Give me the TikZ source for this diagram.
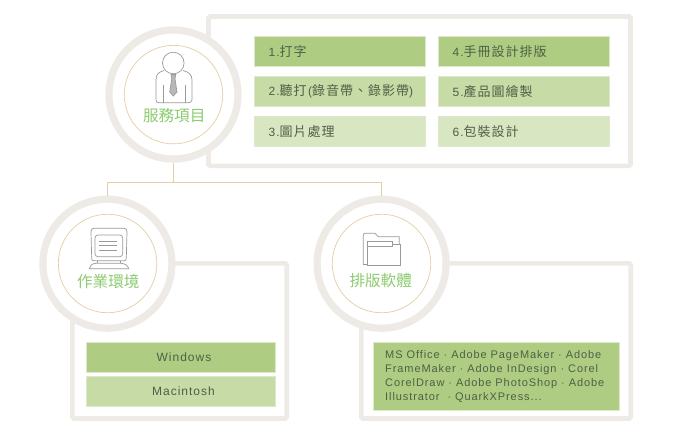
\documentclass[tikz,border=0pt]{standalone}
\usepackage{fontspec}
\setmainfont[LetterSpace=8.3]{Liberation Sans}
\newfontfamily\cjk[LetterSpace=7.7]{Noto Sans CJK TC}
\newfontfamily\cjklabel{Noto Sans CJK TC}
\newcommand{\cjktext}[1]{{\fontsize{13}{14}\cjk #1}}
\definecolor{panelgray}{HTML}{EEEBE6}
\definecolor{ringtan}{HTML}{E3CFA3}
\definecolor{labelgreen}{HTML}{8CCB6E}
\definecolor{textgreen}{HTML}{4F5F45}
\definecolor{boxa}{HTML}{AFCD82}
\definecolor{boxb}{HTML}{C6DBA6}
\definecolor{boxc}{HTML}{D9E6C2}
\definecolor{boxedge}{HTML}{DDE9CB}
\definecolor{icongray}{HTML}{9A9A9A}
\tikzset{
	panel/.style={draw=panelgray, line width=4.6, rounded corners=1.5},
	ring/.style={circle, draw=panelgray, line width=7.2, fill=white, minimum size=129, inner sep=0},
	innerring/.style={circle, draw=ringtan, line width=0.7, minimum size=98.5, inner sep=0},
	link/.style={draw=ringtan, line width=0.9},
	item/.style={draw=boxedge, line width=0.6, minimum width=170.5, minimum height=30.5, inner sep=0, text=textgreen, font=\fontsize{12}{14}\selectfont},
	itemleft/.style={item, align=left, text width=142},
	circlelabel/.style={text=labelgreen, inner sep=0, font=\fontsize{15.6}{16}\cjklabel},
	icon/.style={draw=icongray, line width=0.7}
}
\begin{document}
\begin{tikzpicture}[x=1pt, y=-1pt]
	\useasboundingbox (0,0) rectangle (676,431);

	% panels
	\draw[panel] (208.5,16.5) rectangle (630.5,165.8);
	\draw[panel] (72.3,263.3) rectangle (286.7,418.5);
	\draw[panel] (361.3,263.3) rectangle (630.7,418.5);

	% circles
	\node[ring] (service) at (173.5,94.5) {};
	\node[ring] (system) at (107.4,263.7) {};
	\node[ring] (software) at (381.6,263.7) {};
	\node[innerring] (serviceinner) at (173.5,94.6) {};
	\node[innerring] (systeminner) at (107.6,263.5) {};
	\node[innerring] (softwareinner) at (381.5,263.5) {};

	% connectors
	\coordinate (branch) at (173.5,182.5);
	\draw[link] (service.south) -- (branch);
	\draw[link] (system.north) |- (branch);
	\draw[link] (software.north) |- (branch);

	% labels in circles
	\node[circlelabel] (servicelabel) at (174.2,115.7) {服務項目};
	\node[circlelabel] (systemlabel) at (108.3,281.7) {作業環境};
	\node[circlelabel] (softwarelabel) at (380.7,280.7) {排版軟體};

	% person
	\draw[icon] (173.3,63) circle (10.8);
	\draw[icon] (164,70.5) .. controls (158,72) and (156,75) .. (156,80) -- (156,100) .. controls (156,102) and (157,102.7) .. (159,102.7) -- (188,102.7) .. controls (190,102.7) and (192,102) .. (192,100) -- (192,80) .. controls (192,75) and (189,72) .. (183,70.5);
	\draw[icon] (163.3,85) -- (163.3,102.7);
	\draw[icon] (185.7,85) -- (185.7,102.7);
	\draw[icon, fill=icongray!70] (171,74.5) -- (175.7,74.5) -- (175,79) -- (177,92) -- (173.3,96) -- (169.7,92) -- (171.7,79) -- cycle;

	% monitor
	\draw[icon] (93.5,260.7) .. controls (92,260.7) and (91.8,260) .. (91.7,258) -- (91,232) .. controls (91,229.5) and (92,228.3) .. (94,228.3) -- (124,228.3) .. controls (126,228.3) and (127,229.5) .. (127,232) -- (126.3,258) .. controls (126.2,260) and (126,260.7) .. (124.5,260.7) -- cycle;
	\draw[icon, rounded corners=3] (95,235) rectangle (122.7,256.7);
	\draw[icon] (99.3,241.7) -- (117.3,241.7);
	\draw[icon] (99.3,245.8) -- (117.3,245.8);
	\draw[icon] (99.3,250) -- (117.3,250);
	\draw[icon] (97,260.7) -- (97,263.3);
	\draw[icon] (120,260.7) -- (120,263.3);
	\draw[icon] (89.3,268.7) .. controls (90,265.5) and (92,263.5) .. (96,263.3) -- (121,263.3) .. controls (125,263.5) and (128,265.5) .. (128.7,268.7) -- cycle;

	% folder
	\draw[icon] (367.3,264.5) -- (363.3,264.5) -- (363.3,235.5) .. controls (363.3,234) and (364,233.3) .. (365,233.3) -- (375,233.3) -- (378.3,236.7) -- (399.3,236.7) -- (399.3,244.3);
	\draw[icon] (367.3,241.7) -- (392.7,241.7) -- (392.7,244.3) -- (400.7,244.3) -- (400.7,265.7) -- (367.3,265.7) -- cycle;
	\draw[icon] (367.3,246) -- (392.7,246) -- (392.7,244.3);
	\draw[icon, line width=1.1] (400.7,244.3) -- (400.7,265.7) -- (367.3,265.7);

	% service items
	\node[itemleft, fill=boxa] (item1) at (339.7,51.3) {1.\cjktext{打字}};
	\node[itemleft, fill=boxb] (item2) at (339.7,91.3) {\mbox{2.\cjktext{聽打}\hspace{1.5pt}(\cjktext{錄音帶、錄影帶})}};
	\node[itemleft, fill=boxc] (item3) at (339.7,131.3) {3.\cjktext{圖片處理}};
	\node[itemleft, fill=boxa] (item4) at (523.7,51.3) {4.\cjktext{手冊設計排版}};
	\node[itemleft, fill=boxb] (item5) at (523.7,91.3) {5.\cjktext{產品圖繪製}};
	\node[itemleft, fill=boxc] (item6) at (523.7,131.3) {6.\cjktext{包裝設計}};

	% system items
	\node[item, fill=boxa, minimum width=189] (windows) at (180.5,357.5) {\hspace*{7pt}Windows};
	\node[item, fill=boxb, minimum width=189] (macintosh) at (180.5,391.5) {\hspace*{6pt}Macintosh};

	% software item
	\node[item, fill=boxa, minimum width=245.7, minimum height=68.4, align=left] (apps) at (496.2,376.5) {\parbox{222pt}{\raggedright\fontsize{11}{14.3}\selectfont MS Office · Adobe PageMaker · Adobe\\ FrameMaker · Adobe InDesign · Corel\\ CorelDraw · Adobe PhotoShop · Adobe\\ Illustrator~ · QuarkXPress...}};
\end{tikzpicture}
\end{document}
